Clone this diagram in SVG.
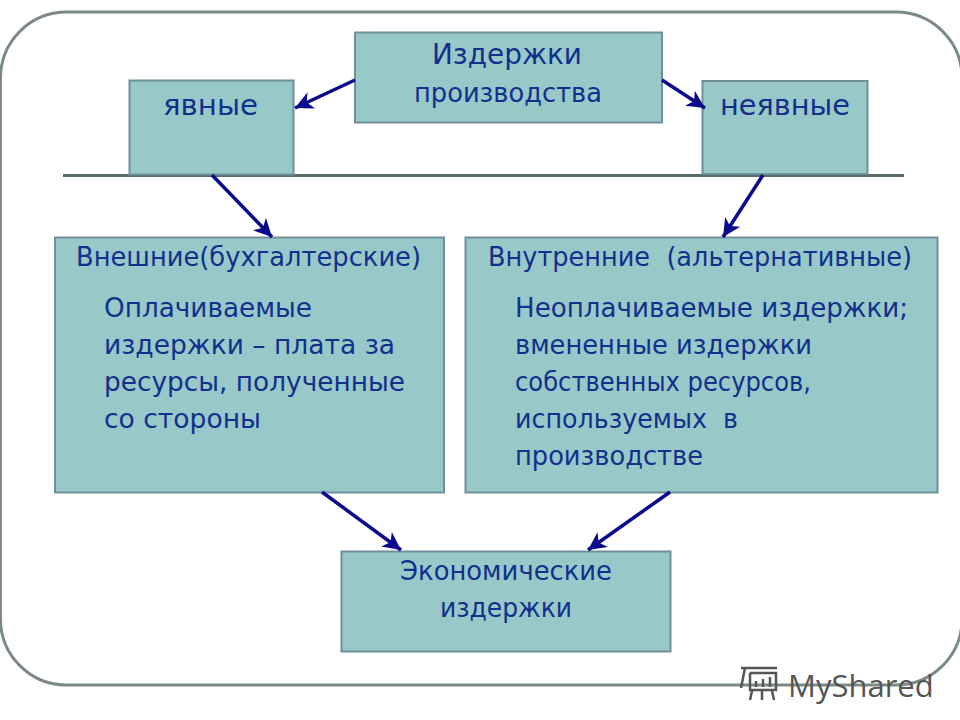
<svg xmlns="http://www.w3.org/2000/svg" width="960" height="720" viewBox="0 0 960 720">
<defs>
<marker id="ah" markerUnits="userSpaceOnUse" markerWidth="22" markerHeight="20" refX="20" refY="10" orient="auto"><path d="M2 1 L20 10 L2 19 L7 10 Z" fill="#0a0a8c"/></marker>
</defs>
<style>
.box{fill:#98c8c8;stroke:#6f8f9c;stroke-width:2}
.t{font-family:"DejaVu Sans","Noto Sans",sans-serif;fill:#12308c;font-size:26px}
.b{font-size:29px}
.conn{stroke:#0a0a8c;stroke-width:3.500;fill:none;marker-end:url(#ah)}
</style>
<rect width="960" height="720" fill="#fff"/>
<rect id="frame" x="0.500" y="12" width="961.500" height="673" rx="66" ry="66" fill="#fff" stroke="#7b8a88" stroke-width="3"/>
<line id="divider" x1="63" y1="175.500" x2="904" y2="175.500" stroke="#566a68" stroke-width="3"/>
<g id="node-costs"><rect class="box" x="355" y="32.500" width="307" height="90"/><text class="t b" x="432" y="64" textLength="150" lengthAdjust="spacingAndGlyphs">Издержки</text><text class="t" x="414" y="102" textLength="188" lengthAdjust="spacingAndGlyphs">производства</text></g>
<g id="node-explicit"><rect class="box" x="129.500" y="80.500" width="164" height="94"/><text class="t b" x="163" y="115" textLength="95" lengthAdjust="spacingAndGlyphs">явные</text></g>
<g id="node-implicit"><rect class="box" x="702.500" y="81" width="165" height="93"/><text class="t b" x="720" y="115" textLength="130" lengthAdjust="spacingAndGlyphs">неявные</text></g>
<g id="node-external"><rect class="box" x="55" y="237.500" width="389" height="255"/><text class="t" x="76" y="266" textLength="345" lengthAdjust="spacingAndGlyphs">Внешние(бухгалтерские)</text><text class="t" x="104" y="317" textLength="208" lengthAdjust="spacingAndGlyphs">Оплачиваемые</text><text class="t" x="104" y="354" textLength="291" lengthAdjust="spacingAndGlyphs">издержки – плата за</text><text class="t" x="104" y="391" textLength="301" lengthAdjust="spacingAndGlyphs">ресурсы, полученные</text><text class="t" x="104" y="428" textLength="157" lengthAdjust="spacingAndGlyphs">со стороны</text></g>
<g id="node-internal"><rect class="box" x="465.500" y="237.500" width="472" height="255"/><text class="t" x="488" y="266" textLength="424" lengthAdjust="spacingAndGlyphs" xml:space="preserve">Внутренние  (альтернативные)</text><text class="t" x="515" y="317" textLength="393" lengthAdjust="spacingAndGlyphs">Неоплачиваемые издержки;</text><text class="t" x="515" y="354" textLength="297" lengthAdjust="spacingAndGlyphs">вмененные издержки</text><text class="t" x="515" y="391" textLength="296" lengthAdjust="spacingAndGlyphs">собственных ресурсов,</text><text class="t" x="515" y="428" textLength="223" lengthAdjust="spacingAndGlyphs" xml:space="preserve">используемых  в</text><text class="t" x="515" y="465" textLength="188" lengthAdjust="spacingAndGlyphs">производстве</text></g>
<g id="node-economic"><rect class="box" x="341.500" y="551.500" width="329" height="100"/><text class="t" x="400" y="580" textLength="212" lengthAdjust="spacingAndGlyphs">Экономические</text><text class="t" x="440" y="617" textLength="132" lengthAdjust="spacingAndGlyphs">издержки</text></g>
<g id="connectors">
<line class="conn" x1="355" y1="80" x2="295" y2="108"/>
<line class="conn" x1="662" y1="80" x2="705" y2="108"/>
<line class="conn" x1="212" y1="175" x2="272" y2="237"/>
<line class="conn" x1="763" y1="175" x2="723" y2="237"/>
<line class="conn" x1="322" y1="492" x2="401" y2="550"/>
<line class="conn" x1="670" y1="492" x2="588" y2="550"/>
</g>
<g id="watermark"><path d="M741 668 h36 M745 668 l-4 20 M750 673 v17 h26 v-17 h-26 M752 691 l-2 9 M762 691 v9 M772 691 l2 9 M756 687 v-6 M763 687 v-8 M770 687 v-10" fill="none" stroke="#555" stroke-width="2.500"/><text x="788" y="697" font-family="'Open Sans','Noto Sans',sans-serif" font-size="31" fill="#555">MyShared</text></g>
</svg>
